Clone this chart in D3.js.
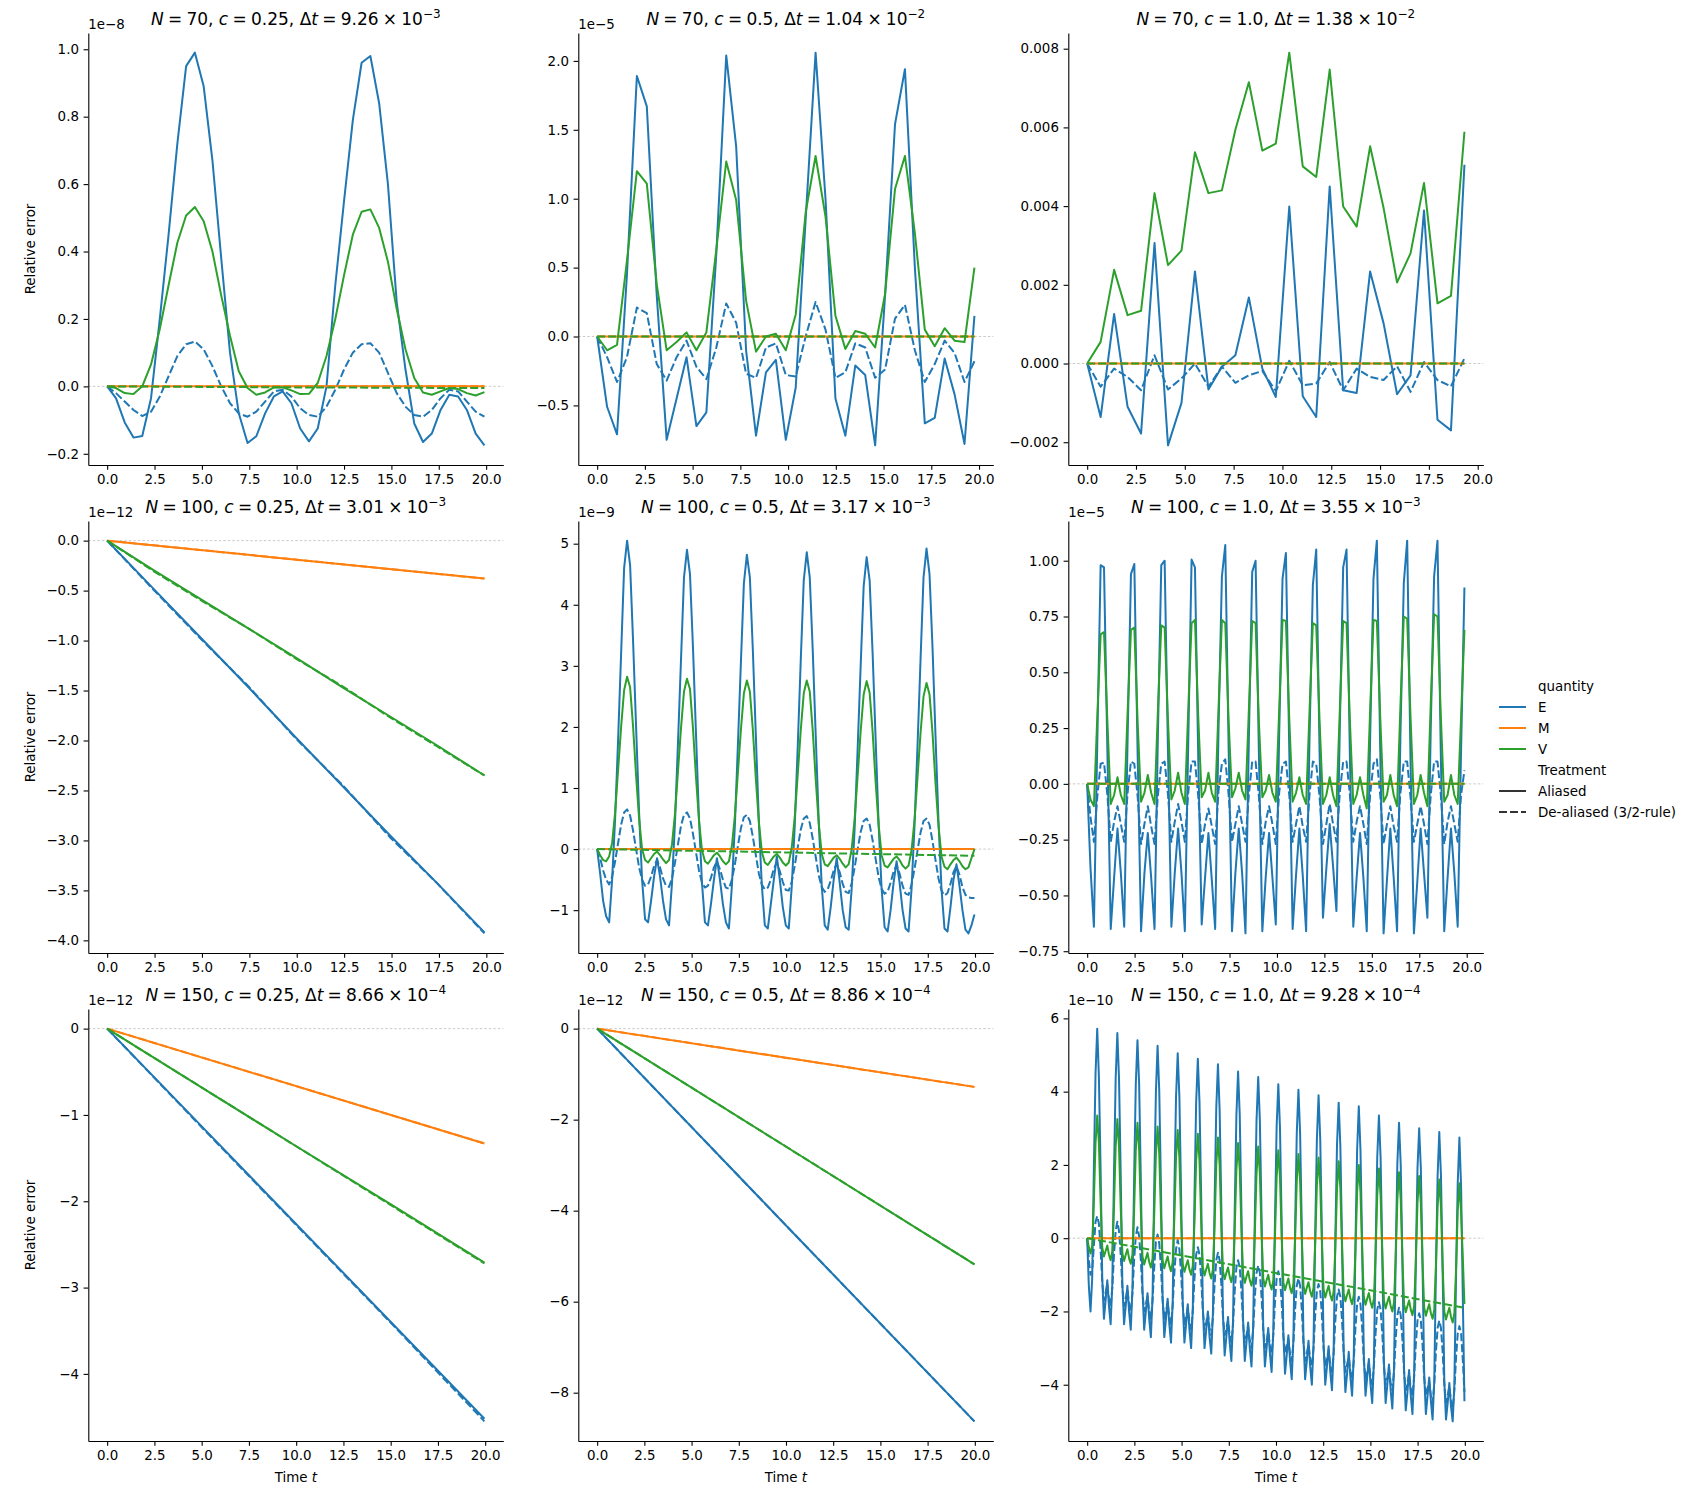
<!DOCTYPE html>
<html>
<head>
<meta charset="utf-8">
<script src="https://cdn.jsdelivr.net/npm/d3@7"></script>
<style>
  body { margin: 0; background: #fff; }
  svg { font-family: "DejaVu Sans", sans-serif; }
</style>
</head>
<body>
<div id="chart"></div>
<script>
// ---- data ----
const quantities = ["E", "M", "V"];
const treatments = ["Aliased", "De-aliased (3/2-rule)"];
const Nvals = [70, 100, 150];
const cVals = ["0.25", "0.5", "1.0"];
const dtMant = [["9.26", "1.04", "1.38"], ["3.01", "3.17", "3.55"], ["8.66", "8.86", "9.28"]];
const dtExp = [["−3", "−2", "−2"], ["−3", "−3", "−3"], ["−4", "−4", "−4"]];
const tEnd = [[19.91, 19.76, 19.32], [19.9, 19.97, 19.88], [19.96, 19.98, 19.98]];
const yOffsetLabel = [["1e−8", "1e−5", ""], ["1e−12", "1e−9", "1e−5"], ["1e−12", "1e−12", "1e−10"]];
const yTickVals = [
  [[-0.2, 0, 0.2, 0.4, 0.6, 0.8, 1.0], [-0.5, 0, 0.5, 1.0, 1.5, 2.0], [-0.002, 0, 0.002, 0.004, 0.006, 0.008]],
  [[-4, -3.5, -3, -2.5, -2, -1.5, -1, -0.5, 0], [-1, 0, 1, 2, 3, 4, 5], [-0.75, -0.5, -0.25, 0, 0.25, 0.5, 0.75, 1.0]],
  [[-4, -3, -2, -1, 0], [-8, -6, -4, -2, 0], [-4, -2, 0, 2, 4, 6]]
];
const yTickFmt = [[".1f", ".1f", ".3f"], [".1f", ".0f", ".2f"], [".0f", ".0f", ".0f"]];
const xTickVals = [0, 2.5, 5, 7.5, 10, 12.5, 15, 17.5, 20];

// N=70, c=0.25  (x1e-8)
const a11E = [0, -0.035, -0.107, -0.152, -0.147, -0.035, 0.2, 0.45, 0.72, 0.95,
  0.99, 0.89, 0.67, 0.38, 0.1, -0.08, -0.168, -0.148, -0.08, -0.03,
  -0.015, -0.05, -0.125, -0.163, -0.125, 0.0, 0.3, 0.55, 0.79, 0.96,
  0.98, 0.84, 0.6, 0.25, 0.05, -0.11, -0.165, -0.14, -0.07, -0.025,
  -0.03, -0.07, -0.14, -0.175];
const a11Ed = [0, -0.02, -0.045, -0.07, -0.088, -0.075, -0.03, 0.03, 0.09, 0.125,
  0.133, 0.11, 0.06, 0.0, -0.05, -0.08, -0.09, -0.075, -0.045, -0.015,
  -0.01, -0.03, -0.065, -0.085, -0.09, -0.06, -0.01, 0.05, 0.1, 0.125,
  0.128, 0.1, 0.04, -0.02, -0.06, -0.085, -0.09, -0.07, -0.035, -0.01,
  -0.015, -0.045, -0.075, -0.09];
const a11M = [0, 0];
const a11Md = [0, 0];
const a11V = [0, -0.005, -0.02, -0.023, 0.0, 0.065, 0.17, 0.3, 0.426, 0.507,
  0.532, 0.49, 0.4, 0.27, 0.15, 0.045, -0.005, -0.025, -0.018, -0.003,
  -0.003, -0.012, -0.023, -0.022, 0.01, 0.09, 0.2, 0.33, 0.45, 0.518,
  0.525, 0.47, 0.37, 0.23, 0.11, 0.025, -0.018, -0.025, -0.015, -0.005,
  -0.008, -0.02, -0.027, -0.017];
const a11Vd = [0, -0.003, -0.005];

// N=70, c=0.5  (x1e-5)
const a12E = [0, -0.51, -0.71, 0.45, 1.89, 1.67, 0.3, -0.75, -0.45, -0.15,
  -0.65, -0.55, 0.6, 2.04, 1.38, -0.1, -0.72, -0.26, -0.17, -0.75,
  -0.37, 0.85, 2.06, 1.0, -0.45, -0.72, -0.21, -0.28, -0.79, 0.3,
  1.54, 1.94, 0.5, -0.63, -0.59, -0.16, -0.42, -0.78, 0.15];
const a12Ed = [0, -0.15, -0.33, -0.15, 0.21, 0.17, -0.2, -0.32, -0.15, -0.03,
  -0.22, -0.31, -0.08, 0.24, 0.1, -0.27, -0.3, -0.08, -0.05, -0.28,
  -0.29, 0.0, 0.25, 0.05, -0.3, -0.26, -0.05, -0.08, -0.3, -0.24,
  0.13, 0.23, -0.1, -0.33, -0.2, -0.03, -0.12, -0.33, -0.18];
const a12M = [0, 0];
const a12Md = [0, 0];
const a12V = [0, -0.1, -0.06, 0.55, 1.2, 1.11, 0.38, -0.1, -0.04, 0.03,
  -0.1, 0.03, 0.63, 1.27, 0.99, 0.26, -0.11, 0.0, 0.02, -0.1,
  0.16, 0.9, 1.31, 0.87, 0.15, -0.09, 0.04, 0.02, -0.08, 0.31,
  1.07, 1.31, 0.75, 0.05, -0.07, 0.06, -0.03, -0.04, 0.5];
const a12Vd = [0, 0];

// N=70, c=1.0  (absolute)
const a13E = [0, -0.00136, 0.00126, -0.0011, -0.00178, 0.00306, -0.00208, -0.001, 0.00234, -0.00066,
  -0.00008, 0.00021, 0.00168, -0.00013, -0.00085, 0.00399, -0.00083, -0.00136, 0.0045, -0.00068,
  -0.00075, 0.00234, 0.00102, -0.00078, -0.0003, 0.00389, -0.00143, -0.0017, 0.00505];
const a13Ed = [0, -0.00059, -0.00013, -0.00034, -0.00068, 0.00021, -0.00066, -0.00038, 0.0, -0.00059,
  -0.00008, -0.00049, -0.0003, -0.00019, -0.0007, 0.00007, -0.00055, -0.00051, 0.00004, -0.00068,
  -0.00013, -0.00034, -0.00042, -0.00007, -0.00072, 0.00004, -0.00042, -0.00058, 0.00013];
const a13M = [0, 0];
const a13Md = [0, 0];
const a13V = [0, 0.00055, 0.00238, 0.00123, 0.00134, 0.00433, 0.0025, 0.00287, 0.00537, 0.00433,
  0.0044, 0.00594, 0.00715, 0.00541, 0.00559, 0.0079, 0.00501, 0.00474, 0.00747, 0.00399,
  0.00348, 0.00552, 0.00395, 0.00206, 0.0028, 0.00459, 0.00153, 0.00172, 0.00589];
const a13Vd = [0, 0];

// N=100, c=0.25  (x1e-12)
const a21E = [0, -0.49, -0.98, -1.47, -1.97, -2.46, -2.95, -3.43, -3.92];
const a21Ed = [0, -0.5, -0.99, -1.46, -1.98, -2.45, -2.97, -3.43, -3.93];
const a21M = [0, -0.38];
const a21Md = [0, -0.38];
const a21V = [0, -0.3, -0.59, -0.88, -1.17, -1.47, -1.76, -2.05, -2.35];
const a21Vd = [0, -0.31, -0.6, -0.88, -1.18, -1.46, -1.77, -2.06, -2.35];

// N=100, c=0.5  (x1e-9)
const a22E = [0, -0.4, -0.85, -1.1, -1.2, -0.5, 0.5, 1.8, 3.2, 4.6, 5.05, 4.65, 3.4, 2.0, 0.6, -0.5, -1.15, -1.2, -0.85, -0.45,
  -0.15, -0.45, -0.85, -1.15, -1.25, -0.55, 0.45, 1.75, 3.1, 4.45, 4.9, 4.5, 3.3, 1.9, 0.5, -0.55, -1.2, -1.25, -0.9, -0.5,
  -0.15, -0.5, -0.9, -1.2, -1.3, -0.6, 0.4, 1.7, 3.05, 4.35, 4.82, 4.45, 3.25, 1.85, 0.45, -0.6, -1.25, -1.3, -0.9, -0.5,
  -0.12, -0.5, -0.95, -1.25, -1.3, -0.6, 0.4, 1.7, 3.1, 4.4, 4.86, 4.45, 3.25, 1.85, 0.45, -0.6, -1.25, -1.32, -0.95, -0.5,
  -0.15, -0.55, -1.0, -1.28, -1.32, -0.65, 0.35, 1.65, 3.0, 4.3, 4.78, 4.4, 3.2, 1.8, 0.4, -0.65, -1.28, -1.35, -1.0, -0.55,
  -0.2, -0.55, -1.0, -1.3, -1.35, -0.65, 0.4, 1.7, 3.1, 4.45, 4.92, 4.5, 3.3, 1.85, 0.45, -0.65, -1.3, -1.35, -0.95, -0.5,
  -0.25, -0.6, -1.0, -1.32, -1.38, -1.25, -1.07];
const a22Ed = [0, -0.15, -0.35, -0.5, -0.58, -0.45, -0.2, 0.1, 0.4, 0.6, 0.65, 0.55, 0.3, 0.0, -0.3, -0.5, -0.6, -0.58, -0.45, -0.28,
  -0.18, -0.3, -0.48, -0.6, -0.62, -0.48, -0.22, 0.08, 0.38, 0.56, 0.6, 0.5, 0.25, -0.05, -0.35, -0.55, -0.63, -0.6, -0.47, -0.3,
  -0.2, -0.33, -0.5, -0.63, -0.65, -0.5, -0.25, 0.05, 0.34, 0.52, 0.56, 0.46, 0.2, -0.1, -0.4, -0.58, -0.66, -0.63, -0.5, -0.32,
  -0.22, -0.36, -0.54, -0.67, -0.68, -0.53, -0.27, 0.03, 0.32, 0.5, 0.54, 0.43, 0.17, -0.13, -0.43, -0.62, -0.7, -0.66, -0.52, -0.35,
  -0.24, -0.38, -0.57, -0.7, -0.72, -0.56, -0.3, 0.0, 0.28, 0.46, 0.5, 0.4, 0.14, -0.16, -0.46, -0.65, -0.73, -0.7, -0.55, -0.37,
  -0.26, -0.4, -0.6, -0.73, -0.75, -0.58, -0.32, -0.02, 0.27, 0.46, 0.5, 0.4, 0.13, -0.18, -0.48, -0.68, -0.76, -0.72, -0.57, -0.38,
  -0.28, -0.42, -0.62, -0.75, -0.79, -0.8, -0.8];
const a22M = [0, 0];
const a22Md = [0, 0];
const a22V = [0, -0.1, -0.18, -0.2, -0.12, 0.1, 0.6, 1.3, 2.0, 2.6, 2.82, 2.65, 2.0, 1.2, 0.5, 0.0, -0.18, -0.22, -0.15, -0.08,
  -0.04, -0.1, -0.17, -0.23, -0.18, 0.08, 0.58, 1.28, 1.98, 2.58, 2.79, 2.62, 1.98, 1.18, 0.48, -0.02, -0.2, -0.24, -0.17, -0.1,
  -0.06, -0.12, -0.2, -0.25, -0.2, 0.05, 0.55, 1.25, 1.95, 2.55, 2.76, 2.58, 1.95, 1.15, 0.45, -0.05, -0.22, -0.26, -0.19, -0.12,
  -0.08, -0.14, -0.22, -0.27, -0.22, 0.03, 0.53, 1.23, 1.95, 2.55, 2.76, 2.58, 1.94, 1.13, 0.42, -0.08, -0.25, -0.28, -0.21, -0.14,
  -0.1, -0.16, -0.24, -0.3, -0.25, 0.0, 0.5, 1.2, 1.93, 2.53, 2.75, 2.56, 1.92, 1.1, 0.4, -0.1, -0.27, -0.3, -0.23, -0.16,
  -0.12, -0.18, -0.27, -0.32, -0.27, -0.02, 0.48, 1.18, 1.9, 2.5, 2.72, 2.53, 1.9, 1.08, 0.38, -0.12, -0.29, -0.33, -0.25, -0.18,
  -0.14, -0.2, -0.28, -0.33, -0.3, -0.15, 0.0];
const a22Vd = [0, -0.11];

// N=100, c=1.0  (x1e-5)
const a23E = [0, -0.38, -0.64, 0.18, 0.98, 0.97, 0.15, -0.65, -0.42,
  -0.2, -0.4, -0.64, 0.2, 0.94, 0.985, 0.12, -0.66, -0.4,
  -0.22, -0.42, -0.65, 0.22, 0.98, 1.0, 0.14, -0.64, -0.4,
  -0.2, -0.4, -0.66, 0.18, 1.005, 0.97, 0.1, -0.63, -0.42,
  -0.22, -0.43, -0.65, 0.25, 0.93, 1.07, 0.16, -0.66, -0.4,
  -0.2, -0.4, -0.67, 0.2, 0.95, 1.0, 0.12, -0.66, -0.42,
  -0.22, -0.42, -0.63, 0.22, 0.92, 1.035, 0.15, -0.65, -0.41,
  -0.2, -0.41, -0.66, 0.2, 0.89, 1.05, 0.14, -0.6, -0.38,
  -0.18, -0.37, -0.57, 0.25, 0.97, 1.05, 0.12, -0.64, -0.42,
  -0.22, -0.42, -0.66, 0.2, 0.92, 1.09, 0.15, -0.67, -0.43,
  -0.2, -0.42, -0.66, 0.22, 0.9, 1.09, 0.1, -0.67, -0.44,
  -0.2, -0.4, -0.6, 0.25, 0.93, 1.09, 0.12, -0.66, -0.42,
  -0.2, -0.4, -0.64, 0.15, 0.88];
const a23Ed = [0, -0.15, -0.26, -0.06, 0.09, 0.095, -0.05, -0.26, -0.17,
  -0.1, -0.18, -0.26, -0.04, 0.1, 0.09, -0.06, -0.27, -0.18,
  -0.1, -0.19, -0.27, -0.05, 0.09, 0.1, -0.05, -0.26, -0.17,
  -0.09, -0.17, -0.26, -0.04, 0.1, 0.1, -0.06, -0.27, -0.18,
  -0.11, -0.19, -0.27, -0.03, 0.09, 0.11, -0.05, -0.26, -0.18,
  -0.1, -0.18, -0.26, -0.05, 0.1, 0.1, -0.06, -0.27, -0.17,
  -0.1, -0.18, -0.27, -0.04, 0.09, 0.1, -0.05, -0.26, -0.18,
  -0.1, -0.19, -0.26, -0.05, 0.1, 0.09, -0.06, -0.27, -0.18,
  -0.09, -0.18, -0.26, -0.04, 0.1, 0.1, -0.05, -0.26, -0.17,
  -0.1, -0.18, -0.27, -0.05, 0.09, 0.11, -0.05, -0.27, -0.18,
  -0.1, -0.19, -0.26, -0.04, 0.1, 0.1, -0.06, -0.26, -0.18,
  -0.1, -0.18, -0.27, -0.05, 0.1, 0.1, -0.05, -0.27, -0.17,
  -0.1, -0.18, -0.26, -0.05, 0.06];
const a23M = [0, 0];
const a23Md = [0, 0];
const a23V = [0, -0.07, -0.1, 0.3, 0.67, 0.68, 0.28, -0.09, -0.05,
  0.03, -0.05, -0.09, 0.32, 0.69, 0.7, 0.27, -0.08, -0.04,
  0.04, -0.04, -0.09, 0.33, 0.71, 0.7, 0.28, -0.07, -0.03,
  0.05, -0.04, -0.09, 0.33, 0.72, 0.735, 0.29, -0.06, -0.03,
  0.05, -0.04, -0.08, 0.34, 0.735, 0.72, 0.28, -0.06, -0.02,
  0.05, -0.03, -0.07, 0.33, 0.73, 0.72, 0.27, -0.06, -0.03,
  0.04, -0.04, -0.08, 0.33, 0.735, 0.73, 0.29, -0.08, -0.04,
  0.03, -0.05, -0.09, 0.32, 0.72, 0.71, 0.28, -0.09, -0.05,
  0.03, -0.05, -0.1, 0.33, 0.73, 0.72, 0.28, -0.09, -0.05,
  0.03, -0.05, -0.11, 0.33, 0.735, 0.73, 0.3, -0.08, -0.05,
  0.04, -0.05, -0.1, 0.35, 0.75, 0.74, 0.3, -0.09, -0.05,
  0.04, -0.04, -0.1, 0.36, 0.76, 0.75, 0.3, -0.08, -0.05,
  0.04, -0.05, -0.09, 0.3, 0.69];
const a23Vd = [0, 0];

// N=150, c=0.25  (x1e-12)
const a31E = [0, -1.13, -2.26, -3.39, -4.52];
const a31Ed = [0, -1.14, -2.27, -3.4, -4.55];
const a31M = [0, -1.33];
const a31Md = [0, -1.33];
const a31V = [0, -0.68, -1.36, -2.03, -2.71];
const a31Vd = [0, -0.68, -1.36, -2.04, -2.72];

// N=150, c=0.5  (x1e-12)
const a32E = [0, -4.32, -8.63];
const a32Ed = [0, -4.32, -8.63];
const a32M = [0, -1.28];
const a32Md = [0, -1.28];
const a32V = [0, -2.59, -5.18];
const a32Vd = [0, -2.59, -5.18];

// N=150, c=1.0  (x1e-10)
const a33E = [0, -1.3, -2.0, -1.1, 1.9, 4.5, 5.72, 4.4, 1.9, -1.1, -2.2, -1.7,
  -1.15, -1.85, -2.35, -1.25, 1.75, 4.35, 5.6, 4.35, 1.75, -1.25, -2.35, -1.85,
  -1.3, -2.0, -2.5, -1.4, 1.6, 4.2, 5.4, 4.2, 1.6, -1.4, -2.5, -2.0,
  -1.5, -2.2, -2.7, -1.6, 1.4, 4.0, 5.25, 4.0, 1.4, -1.6, -2.7, -2.2,
  -1.65, -2.35, -2.85, -1.75, 1.25, 3.85, 5.05, 3.85, 1.25, -1.75, -2.85, -2.35,
  -1.8, -2.5, -3.0, -1.9, 1.1, 3.7, 4.9, 3.7, 1.1, -1.9, -3.0, -2.5,
  -2.0, -2.7, -3.15, -2.05, 0.95, 3.55, 4.75, 3.5, 0.9, -2.1, -3.2, -2.7,
  -2.15, -2.85, -3.35, -2.25, 0.75, 3.35, 4.55, 3.35, 0.75, -2.25, -3.35, -2.85,
  -2.3, -3.0, -3.5, -2.4, 0.6, 3.2, 4.4, 3.2, 0.6, -2.4, -3.5, -3.0,
  -2.45, -3.15, -3.65, -2.55, 0.45, 3.05, 4.2, 3.0, 0.4, -2.6, -3.7, -3.2,
  -2.65, -3.35, -3.85, -2.75, 0.25, 2.85, 4.05, 2.85, 0.25, -2.75, -3.85, -3.35,
  -2.8, -3.5, -4.0, -2.9, 0.1, 2.7, 3.9, 2.7, 0.1, -2.9, -4.0, -3.5,
  -2.95, -3.65, -4.15, -3.05, -0.05, 2.55, 3.7, 2.5, -0.1, -3.1, -4.2, -3.7,
  -3.1, -3.8, -4.3, -3.2, -0.2, 2.4, 3.6, 2.4, -0.2, -3.2, -4.3, -3.8,
  -3.3, -4.0, -4.5, -3.4, -0.4, 2.2, 3.35, 2.2, -0.4, -3.4, -4.5, -4.0,
  -3.45, -4.15, -4.65, -3.55, -0.55, 2.05, 3.15, 2.0, -0.6, -3.6, -4.7, -4.2,
  -3.6, -4.3, -4.8, -3.7, -0.7, 1.9, 3.0, 1.9, -0.7, -3.7, -4.8, -4.3,
  -3.8, -4.45, -4.95, -3.9, -0.9, 1.7, 2.9, 1.7, -0.9, -3.9, -4.95, -4.5,
  -3.95, -4.6, -5.0, -4.0, -1.0, 1.5, 2.75, 1.4, -1.5, -4.45];
const a33Ed = [0, -0.6, -1.0, -0.9, -0.2, 0.45, 0.6, 0.4, -0.3, -1.2, -1.7, -1.5,
  -1.25, -1.65, -1.85, -1.35, -0.45, 0.2, 0.45, 0.2, -0.45, -1.35, -1.85, -1.65,
  -1.4, -1.8, -2.0, -1.5, -0.6, 0.05, 0.3, 0.05, -0.6, -1.5, -2.0, -1.8,
  -1.6, -2.0, -2.2, -1.7, -0.8, -0.1, 0.1, -0.15, -0.8, -1.7, -2.2, -2.0,
  -1.75, -2.15, -2.35, -1.85, -0.95, -0.3, -0.05, -0.3, -0.95, -1.85, -2.35, -2.15,
  -1.9, -2.3, -2.5, -2.0, -1.1, -0.45, -0.25, -0.45, -1.1, -2.0, -2.5, -2.3,
  -2.05, -2.45, -2.65, -2.15, -1.25, -0.6, -0.4, -0.6, -1.25, -2.15, -2.65, -2.45,
  -2.25, -2.65, -2.85, -2.35, -1.45, -0.8, -0.6, -0.8, -1.45, -2.35, -2.85, -2.65,
  -2.4, -2.8, -3.0, -2.5, -1.6, -0.95, -0.75, -0.95, -1.6, -2.5, -3.0, -2.8,
  -2.55, -2.95, -3.15, -2.65, -1.75, -1.1, -0.9, -1.1, -1.75, -2.65, -3.15, -2.95,
  -2.75, -3.15, -3.35, -2.85, -1.95, -1.3, -1.1, -1.3, -1.95, -2.85, -3.35, -3.15,
  -2.9, -3.3, -3.5, -3.0, -2.1, -1.45, -1.25, -1.45, -2.1, -3.0, -3.5, -3.3,
  -3.05, -3.45, -3.65, -3.15, -2.25, -1.6, -1.4, -1.6, -2.25, -3.15, -3.65, -3.45,
  -3.25, -3.65, -3.85, -3.35, -2.45, -1.8, -1.6, -1.8, -2.45, -3.35, -3.85, -3.65,
  -3.4, -3.8, -4.0, -3.5, -2.6, -1.95, -1.75, -1.95, -2.6, -3.5, -4.0, -3.8,
  -3.55, -3.95, -4.15, -3.65, -2.75, -2.1, -1.9, -2.1, -2.75, -3.65, -4.15, -3.95,
  -3.7, -4.1, -4.3, -3.8, -2.9, -2.25, -2.05, -2.25, -2.9, -3.8, -4.3, -4.1,
  -3.9, -4.3, -4.5, -4.0, -3.1, -2.45, -2.25, -2.45, -3.1, -4.0, -4.5, -4.3,
  -4.05, -4.45, -4.65, -4.15, -3.25, -2.6, -2.4, -2.6, -3.3, -4.2];
const a33M = [0, 0];
const a33Md = [0, 0];
const a33V = [0, -0.25, -0.42, -0.2, 1.0, 2.6, 3.35, 2.6, 1.0, -0.25, -0.5, -0.35,
  -0.2, -0.45, -0.6, -0.35, 0.85, 2.5, 3.25, 2.5, 0.85, -0.4, -0.62, -0.45,
  -0.3, -0.55, -0.7, -0.45, 0.75, 2.4, 3.15, 2.4, 0.75, -0.5, -0.72, -0.55,
  -0.4, -0.65, -0.8, -0.55, 0.65, 2.3, 3.05, 2.3, 0.65, -0.6, -0.82, -0.65,
  -0.5, -0.75, -0.9, -0.65, 0.55, 2.2, 2.95, 2.2, 0.55, -0.7, -0.92, -0.75,
  -0.6, -0.85, -1.0, -0.75, 0.45, 2.1, 2.85, 2.1, 0.45, -0.8, -1.02, -0.85,
  -0.7, -0.95, -1.1, -0.85, 0.35, 2.0, 2.75, 2.0, 0.35, -0.9, -1.12, -0.95,
  -0.8, -1.05, -1.2, -0.95, 0.25, 1.85, 2.6, 1.85, 0.25, -1.0, -1.22, -1.05,
  -0.9, -1.15, -1.3, -1.05, 0.15, 1.75, 2.5, 1.75, 0.15, -1.1, -1.32, -1.15,
  -1.0, -1.25, -1.4, -1.15, 0.05, 1.65, 2.4, 1.65, 0.05, -1.2, -1.42, -1.25,
  -1.1, -1.35, -1.5, -1.25, -0.05, 1.55, 2.3, 1.55, -0.05, -1.3, -1.52, -1.35,
  -1.2, -1.45, -1.6, -1.35, -0.15, 1.45, 2.2, 1.45, -0.15, -1.4, -1.62, -1.45,
  -1.3, -1.55, -1.7, -1.45, -0.25, 1.35, 2.1, 1.35, -0.25, -1.5, -1.72, -1.55,
  -1.4, -1.65, -1.8, -1.55, -0.35, 1.25, 2.0, 1.25, -0.35, -1.6, -1.82, -1.65,
  -1.5, -1.75, -1.9, -1.65, -0.45, 1.15, 1.9, 1.15, -0.45, -1.7, -1.92, -1.75,
  -1.6, -1.85, -2.0, -1.75, -0.55, 1.05, 1.8, 1.05, -0.55, -1.8, -2.02, -1.85,
  -1.7, -1.95, -2.1, -1.85, -0.65, 0.95, 1.7, 0.95, -0.65, -1.9, -2.12, -1.95,
  -1.8, -2.05, -2.2, -1.95, -0.75, 0.85, 1.6, 0.85, -0.75, -2.0, -2.22, -2.05,
  -1.9, -2.15, -2.3, -2.05, -0.85, 0.75, 1.5, 0.7, -0.5, -1.8];
const a33Vd = [0, -0.47, -0.95, -1.42, -1.9];

const panelSeries = [
  [{E: a11E, Ed: a11Ed, M: a11M, Md: a11Md, V: a11V, Vd: a11Vd},
   {E: a12E, Ed: a12Ed, M: a12M, Md: a12Md, V: a12V, Vd: a12Vd},
   {E: a13E, Ed: a13Ed, M: a13M, Md: a13Md, V: a13V, Vd: a13Vd}],
  [{E: a21E, Ed: a21Ed, M: a21M, Md: a21Md, V: a21V, Vd: a21Vd},
   {E: a22E, Ed: a22Ed, M: a22M, Md: a22Md, V: a22V, Vd: a22Vd},
   {E: a23E, Ed: a23Ed, M: a23M, Md: a23Md, V: a23V, Vd: a23Vd}],
  [{E: a31E, Ed: a31Ed, M: a31M, Md: a31Md, V: a31V, Vd: a31Vd},
   {E: a32E, Ed: a32Ed, M: a32M, Md: a32Md, V: a32V, Vd: a32Vd},
   {E: a33E, Ed: a33Ed, M: a33M, Md: a33Md, V: a33V, Vd: a33Vd}]
];

// ---- layout / style ----
const color = d3.scaleOrdinal().domain(quantities).range(["#1f77b4", "#ff7f0e", "#2ca02c"]);
const W = 415, H = 432;
const colX = [88.3, 578.3, 1068.3];
const rowY = [33, 521, 1009];
const lw = 2;
const dash = "8,3";
const fs = 13.4;
const sp = "\u2005";  // math-ish spacing around relations

const svg = d3.select("#chart").append("svg")
    .attr("width", 1692)
    .attr("height", 1500);

const drawOrder = [["E", "E", false], ["Ed", "E", true], ["M", "M", false],
                   ["Md", "M", true], ["V", "V", false], ["Vd", "V", true]];

function styleAxis(ax) {
  ax.attr("font-family", "DejaVu Sans").attr("font-size", fs);
  ax.selectAll("path.domain").attr("stroke", "#000").attr("stroke-width", 1.1);
  ax.selectAll(".tick line").attr("stroke", "#000").attr("stroke-width", 1.1);
  ax.selectAll(".tick text").attr("fill", "#000");
}

for (let r = 0; r < 3; r++) {
  for (let c = 0; c < 3; c++) {
    const g = svg.append("g").attr("transform", `translate(${colX[c]},${rowY[r]})`);
    const s = panelSeries[r][c];
    const te = tEnd[r][c];

    const allVals = Object.values(s).flat();
    const [lo, hi] = d3.extent(allVals);
    const pad = (hi - lo) * 0.05;
    const y = d3.scaleLinear().domain([lo - pad, hi + pad]).range([H, 0]);
    const x = d3.scaleLinear().domain([-0.05 * te, 1.05 * te]).range([0, W]);

    // zero reference
    g.append("line")
        .attr("x1", 0).attr("x2", W)
        .attr("y1", y(0)).attr("y2", y(0))
        .attr("stroke", "#bdbdbd").attr("stroke-width", 0.8)
        .attr("stroke-dasharray", "2.5,2");

    const line = d3.line().x(d => x(d[0])).y(d => y(d[1]));
    drawOrder.forEach(([key, q, dashed]) => {
      const vals = s[key];
      const pts = vals.map((v, i) => [i * te / (vals.length - 1), v]);
      g.append("path")
          .attr("d", line(pts))
          .attr("fill", "none")
          .attr("stroke", color(q))
          .attr("stroke-width", lw)
          .attr("stroke-linejoin", "round")
          .attr("stroke-dasharray", dashed ? dash : null);
    });

    // axes
    const xa = g.append("g")
        .attr("transform", `translate(0,${H})`)
        .call(d3.axisBottom(x).tickValues(xTickVals).tickFormat(d3.format(".1f"))
              .tickSize(4.7).tickPadding(4.7).tickSizeOuter(0));
    styleAxis(xa);

    const ya = g.append("g")
        .call(d3.axisLeft(y).tickValues(yTickVals[r][c]).tickFormat(d3.format(yTickFmt[r][c]))
              .tickSize(4.7).tickPadding(4.7).tickSizeOuter(0));
    styleAxis(ya);

    // offset text
    if (yOffsetLabel[r][c]) {
      g.append("text")
          .attr("x", 0).attr("y", -4)
          .attr("font-size", fs)
          .text(yOffsetLabel[r][c]);
    }

    // title
    const t = g.append("text")
        .attr("x", W / 2).attr("y", -8)
        .attr("text-anchor", "middle")
        .attr("font-size", 17);
    t.append("tspan").attr("font-style", "italic").text("N");
    t.append("tspan").text(`${sp}=${sp}${Nvals[r]}, `);
    t.append("tspan").attr("font-style", "italic").text("c");
    t.append("tspan").text(`${sp}=${sp}${cVals[c]}, Δ`);
    t.append("tspan").attr("font-style", "italic").text("t");
    t.append("tspan").text(`${sp}=${sp}${dtMant[r][c]}${sp}×${sp}10`);
    t.append("tspan").attr("font-size", 12).attr("dy", -7).text(dtExp[r][c]);

    if (c === 0) {
      g.append("text")
          .attr("transform", `translate(-53,${H / 2}) rotate(-90)`)
          .attr("text-anchor", "middle")
          .attr("font-size", fs)
          .text("Relative error");
    }
    if (r === 2) {
      const xl = g.append("text")
          .attr("x", W / 2).attr("y", H + 41)
          .attr("text-anchor", "middle")
          .attr("font-size", fs);
      xl.append("tspan").text("Time ");
      xl.append("tspan").attr("font-style", "italic").text("t");
    }
  }
}

// ---- legend ----
const legendItems = [
  {label: "quantity", stroke: null},
  {label: quantities[0], stroke: color("E"), dashed: false},
  {label: quantities[1], stroke: color("M"), dashed: false},
  {label: quantities[2], stroke: color("V"), dashed: false},
  {label: "Treatment", stroke: null},
  {label: treatments[0], stroke: "#333", dashed: false},
  {label: treatments[1], stroke: "#333", dashed: true}
];
const legend = svg.append("g").attr("transform", "translate(1499,686)");
legendItems.forEach((d, i) => {
  const gy = i * 21;
  if (d.stroke) {
    legend.append("line")
        .attr("x1", 0).attr("x2", 27)
        .attr("y1", gy).attr("y2", gy)
        .attr("stroke", d.stroke)
        .attr("stroke-width", lw)
        .attr("stroke-dasharray", d.dashed ? dash : null);
  }
  legend.append("text")
      .attr("x", 39).attr("y", gy + 5)
      .attr("font-size", fs)
      .text(d.label);
});
</script>
</body>
</html>
